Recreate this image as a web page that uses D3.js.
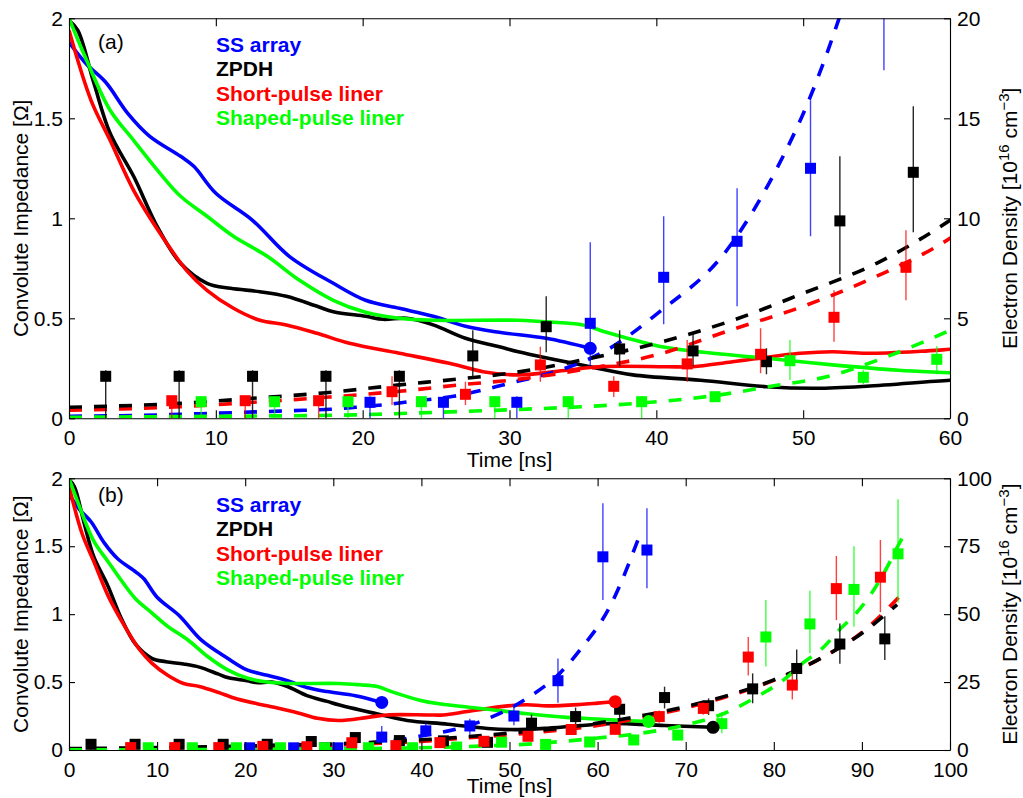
<!DOCTYPE html>
<html>
<head>
<meta charset="utf-8">
<script src="https://cdn.jsdelivr.net/npm/d3@7"></script>
<style>
  body { margin: 0; background: #fff; }
  svg { display: block; }
  text { font-family: "Liberation Sans", Arial, Helvetica, sans-serif; }
</style>
</head>
<body>
<svg id="chart" width="1023" height="798"></svg>
<script>
// ---- series names & colours ----
const seriesNames = ["SS array", "ZPDH", "Short-pulse liner", "Shaped-pulse liner"];
const seriesColors = ["#0000ff", "#000000", "#ff0000", "#00ff00"];

// ---- tick values ----
const impedanceTicks = [0, 0.5, 1, 1.5, 2];
const timeTicksA = [0, 10, 20, 30, 40, 50, 60];
const timeTicksB = [0, 10, 20, 30, 40, 50, 60, 70, 80, 90, 100];
const densityTicksA = [0, 5, 10, 15, 20];
const densityTicksB = [0, 25, 50, 75, 100];

// ---- convolute impedance [ohm] vs time [ns] ----
const impedanceSS = [[0,1.88],[1.2,1.77],[2.5,1.68],[4,1.525],[5.5,1.41],[7.6,1.31],[8.5,1.26],[10,1.125],[12.5,0.99],[15,0.81],[18,0.675],[20.2,0.59],[22.5,0.55],[24.8,0.51],[27,0.46],[29.3,0.43],[32.5,0.40],[35.5,0.35]];
const impedanceZPDH = [[0,1.99],[0.6,1.94],[1.7,1.675],[2.8,1.425],[4.4,1.21],[6,0.96],[7.6,0.775],[9.4,0.675],[11,0.65],[13,0.633],[14.8,0.61],[16.9,0.56],[18,0.533],[20.2,0.51],[21.4,0.495],[23,0.5],[24.8,0.467],[27,0.40],[29.3,0.358],[30.6,0.333],[35.5,0.258],[38.4,0.217],[43,0.19],[47.5,0.158],[50.9,0.15],[54.3,0.16],[60,0.19],[62,0.196],[67.6,0.18],[73.1,0.167]];
const impedanceShort = [[0,1.94],[1.5,1.59],[2.8,1.39],[4.4,1.14],[6.2,0.925],[8,0.74],[9.4,0.64],[11.2,0.55],[13,0.49],[14.8,0.467],[16.9,0.425],[19.1,0.375],[22.5,0.325],[25.9,0.275],[28.2,0.233],[30.6,0.217],[33.9,0.24],[36.1,0.258],[40.7,0.258],[42.5,0.258],[45.2,0.283],[49.8,0.325],[52,0.333],[54.3,0.325],[58,0.335],[60,0.345],[62,0.356]];
const impedanceShaped = [[0,2.0],[1.2,1.79],[2.8,1.54],[4.4,1.39],[6.2,1.225],[7.6,1.11],[9.4,1.01],[11.2,0.91],[13.5,0.81],[15.7,0.69],[18,0.59],[20.2,0.53],[22.5,0.50],[24.8,0.49],[30.6,0.49],[33,0.48],[35,0.467],[36.6,0.43],[39.8,0.367],[42,0.34],[47.5,0.30],[52,0.267],[56.5,0.24],[60,0.228],[62,0.22],[65.8,0.21]];

// ---- electron density fits [1e16 cm^-3] vs time [ns] ----
const fitSS = [[0,0.1],[5,0.15],[9,0.23],[12.7,0.32],[16,0.4],[17.8,0.45],[19.5,0.55],[21.4,0.67],[23.2,0.83],[26.2,1.1],[30,1.75],[33.4,2.4],[36.6,3.4],[40,5.2],[45,8.6],[48,12.2],[50.5,16.1],[52.4,19.9],[55.7,28.2],[58,36.8],[61.4,52.8],[65,81]];
const fitZPDH = [[0,0.55],[7.6,0.75],[12.5,1.0],[17.5,1.28],[22.5,1.67],[27,2.0],[30,2.25],[35.5,3.0],[40,3.75],[45.2,4.9],[50,6.25],[55,7.75],[60,9.9],[65,12.6],[70,16.0],[75,20.3],[80,25.8],[85,33.2],[90,43],[94,53.5]];
const fitShort = [[0,0.4],[7.6,0.58],[12.5,0.8],[17.5,1.05],[22.5,1.35],[27,1.7],[30,1.9],[35.5,2.5],[40,3.17],[45,4.4],[50,5.6],[55,7.1],[60,9.0],[65,11.9],[70,15.5],[75,20.0],[80,25.6],[85,33.2],[90,43.3],[95,59]];
const fitShaped = [[0,0.05],[10,0.1],[19.4,0.17],[23,0.25],[27.5,0.36],[31.2,0.46],[35.5,0.6],[38.7,0.75],[44.3,1.17],[47.8,1.6],[51.6,2.08],[55.7,3.08],[60,4.4],[65,6.2],[70,9.2],[74,13.0],[78.4,20.2],[81,25.5],[83.5,32.5],[85.4,37.1],[87.5,44.4],[89.5,50.9],[91.1,57.7],[92.8,66.9],[94.2,75.8],[95.1,81]];

// ---- measured electron density: [time, value, lower, upper] ----
const densSS = [[20.5,0.8,0,1.1],[25.5,0.8,0,1.1],[30.5,0.8,0,1.1],[35.5,4.75,2.6,8.8],[40.5,7.05,4.7,10.1],[45.5,8.85,5.6,11.5],[50.5,12.5,9.1,15.9],[55.5,25.5,17.4,33.7],[60.6,71.1,55.2,90.8],[65.6,73.6,59.5,89]];
const densZPDH = [[2.5,2.1,0,2.4],[7.5,2.1,0,2.4],[12.5,2.1,0,2.4],[17.5,2.1,0,2.4],[22.5,2.1,0,2.4],[27.5,3.12,2.1,4.4],[32.5,4.58,3.3,6.1],[37.5,3.47,2.6,4.4],[42.5,3.37,2.6,4.25],[47.5,2.83,2.2,3.5],[52.5,9.87,7.2,13.1],[57.5,12.3,9.3,15.6],[62.5,15.0,11.8,18.4],[67.6,19.3,15.3,23.3],[72.6,16.3,12.9,19],[77.6,22.5,17.2,28.2],[82.6,30.0,24,37],[87.5,39.0,31.7,46.6],[92.6,40.9,33.1,49.2]];
const densShort = [[7,0.88,0,1.1],[12,0.88,0,1.1],[17,0.88,0,1.1],[22,1.33,0.67,2.1],[27,1.2,0.67,1.83],[32.1,2.67,1.83,3.58],[37.1,1.6,1.07,2.1],[42.1,2.72,1.83,3.92],[47.1,3.2,2.25,4.5],[52.1,5.05,3.83,6.4],[57,7.55,5.9,9.4],[62,7.6,6,9.5],[67,12.3,10,14.5],[72,15.3,13,17.5],[77.1,34.2,27.4,41.6],[82.1,23.9,18.6,28.2],[87.1,59.4,47.8,71.4],[92.1,63.6,50.7,77.3]];
const densShaped = [[9,0.83,0,1.1],[14,0.83,0,1.1],[19,0.83,0,1.1],[24,0.83,0,1.1],[29,0.83,0,1.1],[34,0.83,0,1.1],[39,0.83,0,1.1],[44,1.08,0.9,1.3],[49.1,2.88,1.92,3.92],[54.1,2.05,1.7,2.4],[59.1,2.95,2.2,3.6],[64.1,3.7,2.9,4.5],[69.1,5.5,4.5,6.5],[74.1,9.7,6.2,14],[79.1,41.6,30.7,55.2],[84.1,46.4,35.6,58.6],[89.1,59.1,45.4,75],[94.1,72.2,54.3,92.3]];

const impedanceSets = [impedanceSS, impedanceZPDH, impedanceShort, impedanceShaped];
const fitSets = [fitSS, fitZPDH, fitShort, fitShaped];
const densSets = [densSS, densZPDH, densShort, densShaped];

// ---- layout ----
const svg = d3.select("#chart");
const plotLeft = 69, plotRight = 950;
const fontSize = 21;

const panels = [
  { key: "a", top: 18.3, bottom: 418.3, tMax: 60, tTicks: timeTicksA, nMax: 20, nTicks: densityTicksA,
    tag: "(a)", tagY: 49, xTitleY: 467, legendTop: 18.3 },
  { key: "b", top: 478.3, bottom: 750, tMax: 100, tTicks: timeTicksB, nMax: 100, nTicks: densityTicksB,
    tag: "(b)", tagY: 502, xTitleY: 793, legendTop: 478.3 }
];

// stacking of the fits: red drawn under black
const fitOrder = [0, 2, 1, 3];

panels.forEach(p => {
  const x = d3.scaleLinear().domain([0, p.tMax]).range([plotLeft, plotRight]);
  const yZ = d3.scaleLinear().domain([0, 2]).range([p.bottom, p.top]);
  const yN = d3.scaleLinear().domain([0, p.nMax]).range([p.bottom, p.top]);

  const clipId = "clip-" + p.key;
  svg.append("clipPath").attr("id", clipId)
    .append("rect")
    .attr("x", plotLeft).attr("y", p.top)
    .attr("width", plotRight - plotLeft).attr("height", p.bottom - p.top);

  const g = svg.append("g").attr("clip-path", `url(#${clipId})`);

  // impedance traces
  const zLine = d3.line().x(d => x(d[0])).y(d => yZ(d[1])).curve(d3.curveCatmullRom.alpha(0.5));
  impedanceSets.forEach((s, i) => {
    g.append("path").datum(s)
      .attr("d", zLine)
      .attr("fill", "none")
      .attr("stroke", seriesColors[i])
      .attr("stroke-width", 3.6)
      .attr("stroke-linejoin", "round");
  });

  // density fits (dashed)
  const nLine = d3.line().x(d => x(d[0])).y(d => yN(d[1])).curve(d3.curveMonotoneX);
  fitOrder.forEach(i => {
    g.append("path").datum(fitSets[i])
      .attr("d", nLine)
      .attr("fill", "none")
      .attr("stroke", seriesColors[i])
      .attr("stroke-width", 3.6)
      .attr("stroke-dasharray", "13,12");
  });

  // measured density with error bars
  const sq = 11;
  densSets.forEach((s, i) => {
    const grp = g.append("g");
    grp.selectAll("line").data(s).join("line")
      .attr("x1", d => x(d[0])).attr("x2", d => x(d[0]))
      .attr("y1", d => yN(d[2])).attr("y2", d => yN(d[3]))
      .attr("stroke", seriesColors[i])
      .attr("stroke-opacity", i === 1 ? 0.85 : 0.75)
      .attr("stroke-width", 1.4);
    grp.selectAll("rect").data(s).join("rect")
      .attr("x", d => x(d[0]) - sq / 2).attr("y", d => yN(d[1]) - sq / 2)
      .attr("width", sq).attr("height", sq)
      .attr("fill", seriesColors[i]);
  });

  // end-of-trace markers on the impedance curves
  impedanceSets.forEach((s, i) => {
    const last = s[s.length - 1];
    g.append("circle")
      .attr("cx", x(last[0])).attr("cy", yZ(last[1]))
      .attr("r", 6.5)
      .attr("fill", seriesColors[i]);
  });

  // axes
  const styleAxis = sel => {
    sel.attr("font-size", fontSize).attr("font-family", null);
    sel.selectAll("path.domain").attr("stroke", "#000").attr("stroke-width", 1.1);
    sel.selectAll(".tick line").attr("stroke", "#000").attr("stroke-width", 1.1);
    sel.selectAll(".tick text").attr("fill", "#000");
  };

  svg.append("g").attr("transform", `translate(0,${p.bottom})`)
    .call(d3.axisBottom(x).tickValues(p.tTicks).tickFormat(d3.format("d"))
      .tickSizeInner(-8).tickSizeOuter(0).tickPadding(12))
    .call(styleAxis);

  svg.append("g").attr("transform", `translate(0,${p.top})`)
    .call(d3.axisTop(x).tickValues(p.tTicks).tickFormat("")
      .tickSizeInner(-8).tickSizeOuter(0))
    .call(styleAxis);

  svg.append("g").attr("transform", `translate(${plotLeft},0)`)
    .call(d3.axisLeft(yZ).tickValues(impedanceTicks).tickFormat(d3.format("~g"))
      .tickSizeInner(-6).tickSizeOuter(0).tickPadding(6))
    .call(styleAxis);

  svg.append("g").attr("transform", `translate(${plotRight},0)`)
    .call(d3.axisRight(yN).tickValues(p.nTicks).tickFormat(d3.format("d"))
      .tickSizeInner(-6).tickSizeOuter(0).tickPadding(7))
    .call(styleAxis);

  // axis titles
  svg.append("text")
    .attr("x", (plotLeft + plotRight) / 2).attr("y", p.xTitleY)
    .attr("text-anchor", "middle").attr("font-size", fontSize)
    .text("Time [ns]");

  const midY = (p.top + p.bottom) / 2;
  svg.append("text")
    .attr("transform", `translate(28,${midY}) rotate(-90)`)
    .attr("text-anchor", "middle").attr("font-size", fontSize)
    .text("Convolute Impedance [Ω]");

  const rt = svg.append("text")
    .attr("transform", `translate(1017,${midY}) rotate(-90)`)
    .attr("text-anchor", "middle").attr("font-size", fontSize);
  rt.append("tspan").text("Electron Density [10");
  rt.append("tspan").attr("font-size", 15).attr("dy", -8).text("16");
  rt.append("tspan").attr("dy", 8).text(" cm");
  rt.append("tspan").attr("font-size", 15).attr("dy", -8).text("−3");
  rt.append("tspan").attr("dy", 8).text("]");

  // panel tag
  svg.append("text")
    .attr("x", 98).attr("y", p.tagY)
    .attr("font-size", fontSize)
    .text(p.tag);

  // legend
  const legendOffsets = [33.5, 58, 82.5, 107];
  seriesNames.forEach((name, i) => {
    svg.append("text")
      .attr("x", 216).attr("y", p.legendTop + legendOffsets[i])
      .attr("font-size", 21).attr("font-weight", "bold")
      .attr("fill", seriesColors[i])
      .text(name);
  });
});
</script>
</body>
</html>
